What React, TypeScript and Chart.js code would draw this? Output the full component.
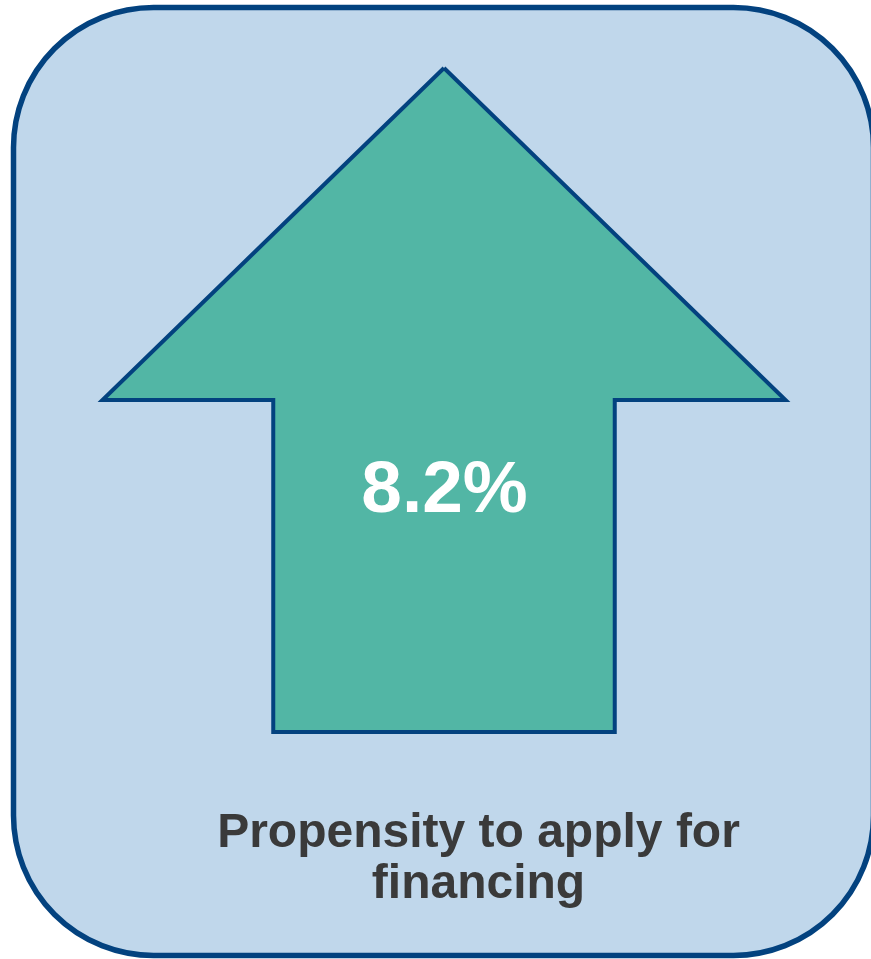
import React, { useEffect, useRef } from "react";
import { Chart, registerables } from "chart.js";

Chart.register(...registerables);

// Arrow outline in arrow units (head half-width = 1, shaft height = 1, head height = 1)
const arrowX = [0, 1, 0.5, 0.5, -0.5, -0.5, -1, 0];
const arrowY = [2, 1, 1, 0, 0, 1, 1, 2];
const valueLabel = "8.2%";
const captionLines = ["Propensity to apply for", "financing"];

const FONT = '"Liberation Sans", Arial, Helvetica, sans-serif';
const NAVY = "#03427f";

function roundRect(ctx: CanvasRenderingContext2D, x: number, y: number, w: number, h: number, r: number) {
  ctx.beginPath();
  ctx.moveTo(x + r, y);
  ctx.lineTo(x + w - r, y);
  ctx.arcTo(x + w, y, x + w, y + r, r);
  ctx.lineTo(x + w, y + h - r);
  ctx.arcTo(x + w, y + h, x + w - r, y + h, r);
  ctx.lineTo(x + r, y + h);
  ctx.arcTo(x, y + h, x, y + h - r, r);
  ctx.lineTo(x, y + r);
  ctx.arcTo(x, y, x + r, y, r);
  ctx.closePath();
}

const boxPlugin = {
  id: "box",
  beforeDraw(chart: any) {
    const ctx = chart.ctx as CanvasRenderingContext2D;
    ctx.save();
    roundRect(ctx, 13.5, 7.5, 873.5 - 13.5, 955.5 - 7.5, 140);
    ctx.fillStyle = "#c0d7eb";
    ctx.fill();
    ctx.lineWidth = 5.5;
    ctx.strokeStyle = NAVY;
    ctx.stroke();
    ctx.restore();
  },
};

const labelPlugin = {
  id: "labels",
  afterDraw(chart: any) {
    const ctx = chart.ctx as CanvasRenderingContext2D;
    const xs = chart.scales.x;
    ctx.save();
    ctx.textAlign = "center";
    ctx.textBaseline = "alphabetic";
    ctx.fillStyle = "#ffffff";
    ctx.font = `bold 73px ${FONT}`;
    ctx.fillText(valueLabel, xs.getPixelForValue(0) + 0.5, 512);
    ctx.fillStyle = "#3a3a3a";
    ctx.font = `bold 48px ${FONT}`;
    captionLines.forEach((line, i) => {
      ctx.fillText(line, 478.5, 847 + i * 51);
    });
    ctx.restore();
  },
};

export default function App() {
  const ref = useRef<HTMLCanvasElement | null>(null);
  useEffect(() => {
    if (!ref.current) return;
    const chart = new Chart(ref.current, {
      type: "scatter",
      data: {
        datasets: [
          {
            label: "arrow",
            data: arrowX.map((x, i) => ({ x, y: arrowY[i] })),
            showLine: true,
            fill: "shape",
            backgroundColor: "#52b6a5",
            borderColor: NAVY,
            borderWidth: 4,
            borderJoinStyle: "miter",
            pointRadius: 0,
            pointHoverRadius: 0,
            tension: 0,
            clip: false,
          } as any,
        ],
      },
      options: {
        animation: false,
        responsive: false,
        events: [],
        layout: { padding: { left: 102.5, right: 85.5, top: 68, bottom: 227 } },
        scales: {
          x: { type: "linear", min: -1, max: 1, display: false },
          y: { type: "linear", min: 0, max: 2, display: false },
        },
        plugins: {
          legend: { display: false },
          tooltip: { enabled: false },
        },
      },
      plugins: [boxPlugin, labelPlugin],
    });
    return () => chart.destroy();
  }, []);
  return (
    <div style={{ position: "absolute", left: 0, top: 0, width: 871, height: 959 }}>
      <canvas ref={ref} width={871} height={959} style={{ display: "block" }} />
    </div>
  );
}
